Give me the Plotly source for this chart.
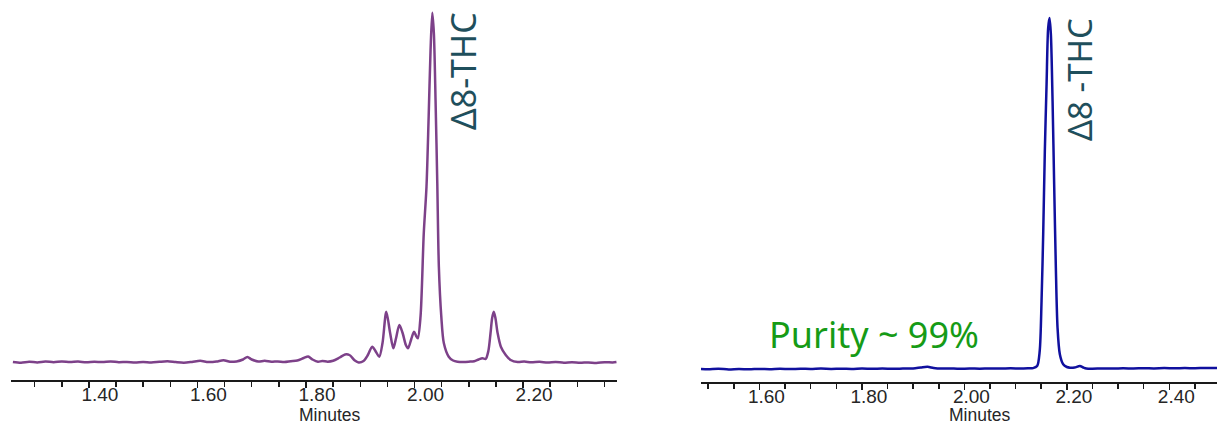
import plotly.graph_objects as go

# ---------------- data (minutes, relative detector response) ----------------
left_time = [1.260, 1.275, 1.290, 1.305, 1.320, 1.335, 1.350, 1.365, 1.380, 1.395,
             1.410, 1.425, 1.440, 1.455, 1.470, 1.485, 1.500, 1.515, 1.530, 1.545,
             1.560, 1.575, 1.590, 1.605, 1.620, 1.635, 1.648, 1.660, 1.672, 1.684,
             1.692, 1.700, 1.712, 1.724, 1.736, 1.748, 1.760, 1.772, 1.784, 1.796,
             1.804, 1.812, 1.822, 1.830, 1.840, 1.850, 1.862, 1.872, 1.880, 1.890,
             1.897, 1.906, 1.914, 1.922, 1.929, 1.935, 1.941, 1.948, 1.955, 1.961,
             1.966, 1.972, 1.978, 1.984, 1.988, 1.994, 1.999, 2.003, 2.006, 2.011,
             2.017, 2.022, 2.026, 2.0295, 2.0327, 2.0356, 2.0387, 2.0419, 2.0448, 2.0493,
             2.054, 2.063, 2.071, 2.079, 2.090, 2.100, 2.110, 2.118, 2.125, 2.131,
             2.136, 2.140, 2.143, 2.146, 2.149, 2.153, 2.159, 2.168, 2.177, 2.190,
             2.202, 2.215, 2.230, 2.245, 2.260, 2.275, 2.290, 2.305, 2.320, 2.335,
             2.350, 2.365, 2.372]
left_signal = [1.0, 0.3, 1.2, 0.6, 1.5, 0.8, 1.6, 1.0, 1.4, 0.7,
               1.2, 0.9, 1.6, 0.8, 1.1, 0.5, 1.0, 0.4, 1.2, 1.8,
               0.9, 0.3, 1.1, 2.2, 1.0, 1.5, 2.8, 1.2, 1.6, 3.5,
               6.0, 3.5, 1.5, 2.2, 1.2, 1.6, 1.0, 1.8, 2.5, 5.0,
               6.5, 3.5, 1.2, 2.0, 1.3, 2.2, 5.5, 8.5, 8.0, 2.5,
               0.5, 2.0, 8.0, 16.3, 11.0, 6.3, 20.0, 51.3, 30.0, 14.7,
               25.0, 38.0, 30.0, 18.0, 14.7, 24.0, 31.3, 27.0, 24.7, 46.3,
               129.7, 176.3, 246.3, 313.0, 350.3, 329.7, 263.0, 179.7, 96.3, 46.3,
               19.7, 6.3, 2.5, 1.3, 1.0, 1.3, 1.8, 3.5, 4.7, 4.0,
               12.0, 30.0, 45.0, 51.3, 45.0, 30.0, 16.3, 8.0, 3.0, 1.0,
               1.5, 0.7, 1.2, 0.5, 1.0, 0.3, 0.8, 0.2, 0.6, 0.0,
               0.8, 0.5, 0.9]

right_time = [1.486, 1.50, 1.52, 1.54, 1.56, 1.58, 1.60, 1.62, 1.64, 1.66,
              1.68, 1.70, 1.72, 1.74, 1.76, 1.78, 1.80, 1.82, 1.84, 1.86,
              1.88, 1.90, 1.915, 1.928, 1.940, 1.955, 1.97, 1.99, 2.01, 2.03,
              2.05, 2.07, 2.09, 2.11, 2.125, 2.134, 2.142, 2.147, 2.1506, 2.1538,
              2.157, 2.1604, 2.1635, 2.1662, 2.1688, 2.1721, 2.1752, 2.1785, 2.1818, 2.1863,
              2.1928, 2.200, 2.206, 2.215, 2.2254, 2.232, 2.238, 2.25, 2.27, 2.29,
              2.31, 2.33, 2.35, 2.37, 2.39, 2.41, 2.43, 2.45, 2.47, 2.493]
right_signal = [1.0, 0.8, 1.2, 0.6, 1.0, 0.7, 1.1, 0.8, 1.2, 0.9,
                1.3, 1.0, 1.4, 1.1, 1.3, 1.0, 1.4, 1.2, 1.5, 1.2,
                1.4, 1.6, 2.5, 3.2, 2.0, 1.4, 1.6, 1.2, 1.5, 1.3,
                1.6, 1.4, 1.7, 1.5, 1.7, 1.9, 4.0, 19.0, 69.0, 135.7,
                219.0, 285.7, 342.0, 352.0, 335.7, 269.0, 185.7, 102.3, 42.3, 15.7,
                5.7, 3.0, 2.3, 2.5, 4.0, 2.5, 1.5, 1.3, 1.6, 1.4,
                1.7, 1.5, 1.8, 1.6, 1.9, 1.7, 1.9, 1.8, 2.0, 1.9]

left_peak_label = "Δ8-THC"
right_peak_label = "Δ8 -THC"
purity_label = "Purity ~ 99%"
axis_title = "Minutes"

W, H = 1217, 425
def px(x):
    return x / W
def py(y):
    return 1 - y / H

fig = go.Figure()
fig.add_trace(go.Scatter(x=left_time, y=left_signal, mode="lines",
                         line=dict(color="#7d4189", width=2.5, shape="spline", smoothing=0.8),
                         xaxis="x", yaxis="y", showlegend=False, hoverinfo="skip"))
fig.add_trace(go.Scatter(x=right_time, y=right_signal, mode="lines",
                         line=dict(color="#10109e", width=2.5, shape="spline", smoothing=0.8),
                         xaxis="x2", yaxis="y2", showlegend=False, hoverinfo="skip"))

axis_common = dict(
    showline=True, linecolor="#1a1a1a", linewidth=2,
    ticks="outside", ticklen=6, tickwidth=1.5, tickcolor="#1a1a1a",
    dtick=0.2, tick0=0, tickformat=".2f",
    tickfont=dict(family="Liberation Sans, Arial", size=19, color="#262626"),
    minor=dict(dtick=0.05, tick0=0, ticks="outside", ticklen=5, tickwidth=1.5, tickcolor="#1a1a1a"),
    showgrid=False, zeroline=False, fixedrange=True, automargin=False,
    ticklabelstandoff=-10,
)

fig.update_layout(
    width=W, height=H,
    margin=dict(l=0, r=0, t=0, b=0, pad=0),
    paper_bgcolor="white", plot_bgcolor="white",
    xaxis=dict(domain=[px(11), px(617)], range=[1.2565, 2.373], anchor="y",
               ticklabelshift=11, **axis_common),
    xaxis2=dict(domain=[px(701), 1.0], range=[1.486, 2.493], anchor="y2",
                ticklabelshift=7, **axis_common),
    yaxis=dict(domain=[(H - 380) / H, 1.0], range=[-17, 363], visible=False,
               fixedrange=True, automargin=False),
    yaxis2=dict(domain=[(H - 382) / H, 1.0], range=[-12, 370], visible=False,
                fixedrange=True, automargin=False),
)

def ann(text, x, y, size, color, family, angle=0):
    return dict(text=text, x=px(x), y=py(y), xref="paper", yref="paper",
                xanchor="center", yanchor="middle", textangle=angle, showarrow=False,
                borderpad=0, font=dict(family=family, size=size, color=color))

annotations = [
    ann(left_peak_label, 463, 71, 34, "#1f4f5c", "Noto Sans", -90),
    ann(right_peak_label, 1079, 80, 33, "#1f4f5c", "Noto Sans", -90),
    ann(purity_label, 874, 334, 36, "#169b16", "Noto Sans"),
    ann(axis_title, 330, 415, 17.5, "#262626", "Liberation Sans, Arial"),
    ann(axis_title, 980, 415, 17.5, "#262626", "Liberation Sans, Arial"),
]
fig.update_layout(annotations=annotations)

fig.write_html(
    "out.html",
    config={"displayModeBar": False, "staticPlot": True},
    post_script="document.documentElement.style.margin='0';document.documentElement.style.overflow='hidden';"
                "document.body.style.margin='0';document.body.style.padding='0';document.body.style.overflow='hidden';",
)
